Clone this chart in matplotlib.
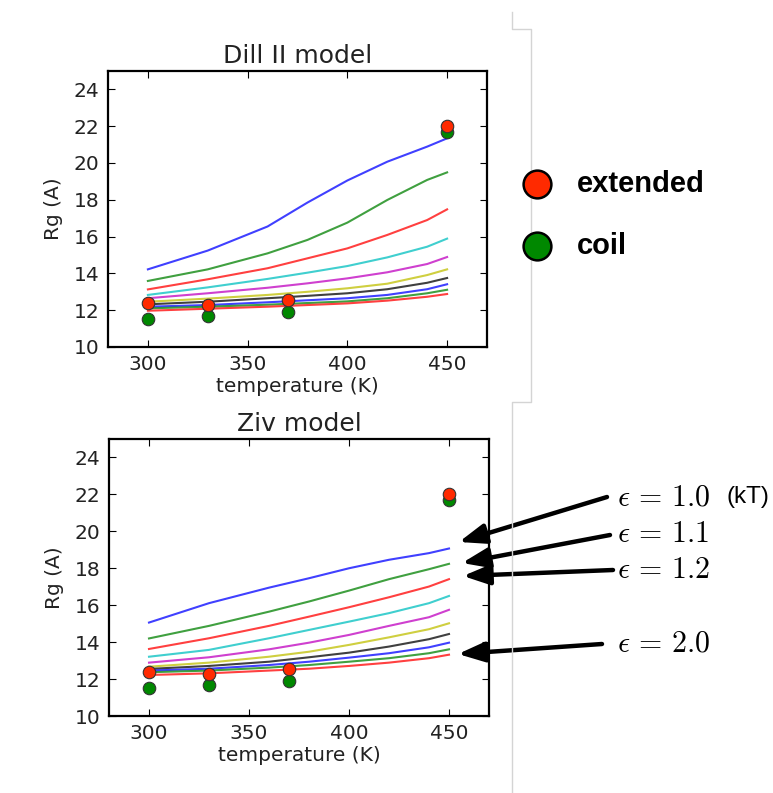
import matplotlib
matplotlib.use("Agg")
from matplotlib import pyplot as plt
from matplotlib.lines import Line2D
from matplotlib.patches import FancyArrowPatch

plt.rcParams['mathtext.fontset'] = 'cm'

# simulation temperatures (K)
temps = [300, 330, 360, 380, 400, 420, 440, 450]

# Rg curves, one per epsilon (1.0, 1.1, 1.2, ... 2.0)
dill = [
    [14.22, 15.24, 16.55, 17.85, 19.05, 20.07, 20.89, 21.34],
    [13.59, 14.22, 15.09, 15.82, 16.76, 17.99, 19.08, 19.49],
    [13.13, 13.68, 14.28, 14.82, 15.36, 16.09, 16.90, 17.48],
    [12.83, 13.24, 13.70, 14.04, 14.40, 14.87, 15.45, 15.89],
    [12.65, 12.92, 13.22, 13.46, 13.73, 14.06, 14.51, 14.89],
    [12.46, 12.63, 12.83, 13.00, 13.19, 13.44, 13.91, 14.22],
    [12.32, 12.46, 12.65, 12.78, 12.92, 13.14, 13.49, 13.75],
    [12.19, 12.28, 12.43, 12.54, 12.65, 12.83, 13.14, 13.41],
    [12.10, 12.19, 12.30, 12.39, 12.48, 12.65, 12.92, 13.11],
    [11.97, 12.08, 12.19, 12.28, 12.37, 12.52, 12.73, 12.88],
]
ziv = [
    [15.06, 16.11, 16.95, 17.46, 18.00, 18.46, 18.82, 19.07],
    [14.20, 14.88, 15.65, 16.20, 16.79, 17.41, 17.95, 18.24],
    [13.63, 14.21, 14.88, 15.38, 15.89, 16.43, 17.01, 17.41],
    [13.21, 13.58, 14.21, 14.66, 15.11, 15.57, 16.11, 16.50],
    [12.89, 13.18, 13.61, 13.97, 14.39, 14.88, 15.35, 15.75],
    [12.67, 12.89, 13.21, 13.48, 13.85, 14.26, 14.70, 15.02],
    [12.55, 12.71, 12.94, 13.18, 13.43, 13.76, 14.16, 14.44],
    [12.46, 12.56, 12.76, 12.94, 13.16, 13.40, 13.72, 13.97],
    [12.37, 12.46, 12.62, 12.76, 12.94, 13.13, 13.40, 13.61],
    [12.22, 12.31, 12.46, 12.56, 12.71, 12.89, 13.13, 13.32],
]

# experimental points
exp_temps = [300, 330, 370, 450]
extended = [12.4, 12.3, 12.55, 22.0]
coil = [11.5, 11.7, 11.9, 21.7]

colors = ['#0000ff', '#008000', '#ff0000', '#00bfbf', '#bf00bf',
          '#bfbf00', '#000000', '#0000ff', '#008000', '#ff0000']
red_pt = '#ff2a00'
green_pt = '#008800'

W, H = 773, 793
fig = plt.figure(figsize=(W / 100, H / 100), dpi=100)


def fx(px):
    return px / W


def fy(py):
    return 1 - py / H


def panel(rect, curves, title):
    ax = fig.add_axes(rect)
    for c, ys in zip(colors, curves):
        ax.plot(temps, ys, '-', color=c, lw=1.5, alpha=0.75)
    ax.plot(exp_temps, extended, 'o', color=red_pt, mec='#333333', mew=0.8, ms=9, zorder=5)
    ax.plot(exp_temps, coil, 'o', color=green_pt, mec='#333333', mew=0.8, ms=9, zorder=4)
    ax.set_xlim(280, 470)
    ax.set_ylim(10, 25)
    ax.set_xticks([300, 350, 400, 450])
    ax.set_yticks(range(10, 25, 2))
    ax.tick_params(direction='in', top=True, right=True, length=5,
                   labelsize=14.5, labelcolor='#222222', pad=6)
    for s in ax.spines.values():
        s.set_linewidth(1.6)
    ax.set_title(title, fontsize=18, color='#222222')
    ax.set_xlabel('temperature (K)', fontsize=14.5, color='#222222', labelpad=2)
    ax.set_ylabel('Rg (A)', fontsize=14.5, color='#222222', labelpad=8)
    return ax


panel([fx(108), fy(347), fx(379), 276 / H], dill, 'Dill II model')
panel([fx(109), fy(716), fx(380), 277 / H], ziv, 'Ziv model')

# gray separator
sep_x = [512, 512, 531, 531, 512, 512]
sep_y = [12, 29, 29, 402, 402, 793]
fig.add_artist(Line2D([fx(v) for v in sep_x], [fy(v) for v in sep_y],
                      color='#d4d4d4', lw=1, transform=fig.transFigure))

# legend
for y, col, lab in [(184, red_pt, 'extended'), (246, green_pt, 'coil')]:
    fig.add_artist(Line2D([fx(537)], [fy(y)], marker='o', ms=20, mfc=col,
                          mec='black', mew=1.8, transform=fig.transFigure))
    fig.text(fx(577), fy(y), lab, fontsize=21, fontweight='bold',
             family='Liberation Sans', va='center', ha='left')

# epsilon labels with arrows
eps = [('$\\epsilon\\,=\\,1.0$', 497, (607, 497), (459, 542)),
       ('$\\epsilon\\,=\\,1.1$', 534, (610, 535), (462, 563)),
       ('$\\epsilon\\,=\\,1.2$', 570, (613, 570), (463, 576)),
       ('$\\epsilon\\,=\\,2.0$', 643, (602, 644), (458, 654))]
for lab, ty, tail, tip in eps:
    fig.text(fx(617), fy(ty), lab, fontsize=21.5, va='center', ha='left')
    fig.add_artist(FancyArrowPatch((fx(tail[0]), fy(tail[1])), (fx(tip[0]), fy(tip[1])),
                                   transform=fig.transFigure,
                                   arrowstyle='-|>,head_length=0.8,head_width=0.3',
                                   mutation_scale=20, lw=3.2, color='black',
                                   shrinkA=0, shrinkB=0))
fig.text(fx(727), fy(497), '(kT)', fontsize=17.5, family='Liberation Sans',
         va='center', ha='left')

fig.savefig('out.png', dpi=100)
